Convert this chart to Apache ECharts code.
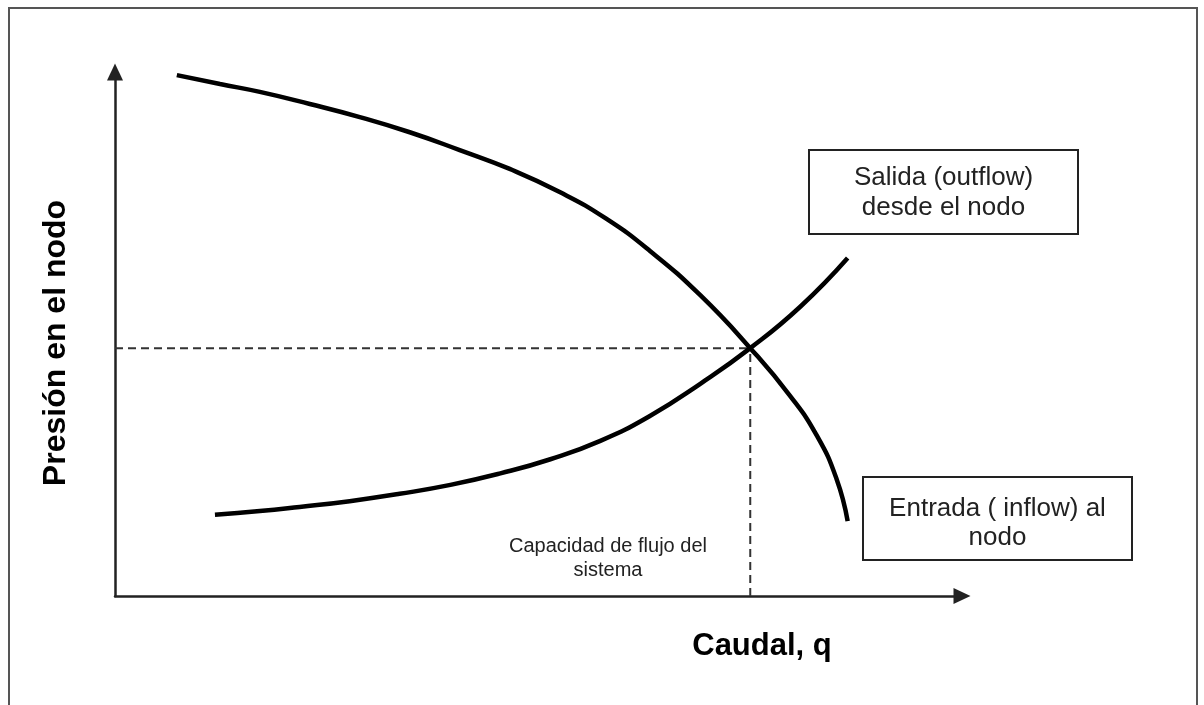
<!DOCTYPE html>
<html>
<head>
<meta charset="utf-8">
<title>Presión en el nodo vs Caudal</title>
<script src="https://cdn.jsdelivr.net/npm/echarts@6/dist/echarts.min.js"></script>
<style>
	html,body{margin:0;padding:0;background:#fff;}
	#chart{width:1204px;height:705px;}
</style>
</head>
<body>
<div id="chart"></div>
<script>
// curva de salida (outflow) desde el nodo, [caudal, presion]
var outflowPts = [[7.3,99.4],[12.4,97.7],[17.1,96.2],[23.0,93.9],[28.9,91.4],[34.8,88.5],
				  [40.7,85.1],[46.6,81.5],[52.5,77.1],[57.9,72.1],[63.2,65.8],[69.1,57.4],
				  [75.0,47.3],[79.7,38.2],[82.9,30.5],[85.2,22.3],[86.5,14.3]];
// curva de entrada (inflow) al nodo
var inflowPts = [[11.8,15.5],[17.1,16.2],[21.8,17.0],[27.7,18.1],[33.6,19.5],[39.6,21.2],
				 [45.5,23.4],[51.4,26.1],[57.3,29.6],[63.2,34.4],[69.1,40.5],[75.0,47.3],
				 [80.9,55.2],[86.5,64.5]];
// punto de operacion (capacidad de flujo del sistema)
var opPoint = [75.0,47.3];

var boxSalida = ["Salida (outflow)","desde el nodo"];
var boxEntrada = ["Entrada ( inflow) al","nodo"];
var capLabel = ["Capacidad de flujo del","sistema"];

var mychart = echarts.init(document.getElementById('chart'));

var font = "'Liberation Sans', Arial, sans-serif";

function curve(pts){
	return {
		type:'line',
		data:pts,
		smooth:0.5,
		showSymbol:false,
		silent:true,
		lineStyle:{color:'#000',width:4.5}
	};
}

function dashed(pts){
	return {
		type:'line',
		data:pts,
		showSymbol:false,
		silent:true,
		lineStyle:{color:'#333',width:2,type:[8,5]}
	};
}

// recuadro con texto centrado
function box(x,y,w,h,lines,lh,dy){
	var items = [{
		type:'rect',
		shape:{x:x,y:y,width:w,height:h},
		style:{fill:'#fff',stroke:'#222',lineWidth:2}
	}];
	for(var i=0;i<lines.length;i++){
		items.push({
			type:'text',
			x:x+w/2,
			y:y+h/2+dy+(i-(lines.length-1)/2)*lh,
			style:{text:lines[i],fill:'#222',font:'26px '+font,align:'center',verticalAlign:'middle'}
		});
	}
	return items;
}

var graphics = [{
	// marco exterior
	type:'rect',
	shape:{x:9,y:8,width:1188,height:720},
	style:{fill:'none',stroke:'#555',lineWidth:2},
	z:-1
},{
	type:'text',
	x:762,y:646,
	style:{text:'Caudal, q',fill:'#000',font:'bold 31px '+font,align:'center',verticalAlign:'middle'}
},{
	type:'text',
	x:608,y:546,
	style:{text:capLabel[0],fill:'#222',font:'20px '+font,align:'center',verticalAlign:'middle'}
},{
	type:'text',
	x:608,y:570,
	style:{text:capLabel[1],fill:'#222',font:'20px '+font,align:'center',verticalAlign:'middle'}
}];
graphics = graphics.concat(box(809,150,269,84,boxSalida,30,1));
graphics = graphics.concat(box(863,477,269,83,boxEntrada,29,5));

var option = {
	animation:false,
	grid:{left:115,right:242,top:72,bottom:109},
	xAxis:{
		type:'value',min:0,max:100,
		axisLine:{show:true,symbol:['none','triangle'],symbolSize:[16,17],
			lineStyle:{color:'#222',width:2.5}},
		axisTick:{show:false},
		axisLabel:{show:false},
		splitLine:{show:false}
	},
	yAxis:{
		type:'value',min:0,max:100,
		name:'Presión en el nodo',
		nameLocation:'middle',
		nameGap:43,
		nameTextStyle:{fontFamily:font,fontSize:32,fontWeight:'bold',color:'#000',padding:[0,18,0,0]},
		axisLine:{show:true,symbol:['none','triangle'],symbolSize:[16,17],
			lineStyle:{color:'#222',width:2.5}},
		axisTick:{show:false},
		axisLabel:{show:false},
		splitLine:{show:false}
	},
	series:[
		dashed([[0,opPoint[1]],opPoint]),
		dashed([[opPoint[0],0],opPoint]),
		curve(outflowPts),
		curve(inflowPts)
	],
	graphic:graphics
};

mychart.setOption(option);
</script>
</body>
</html>
